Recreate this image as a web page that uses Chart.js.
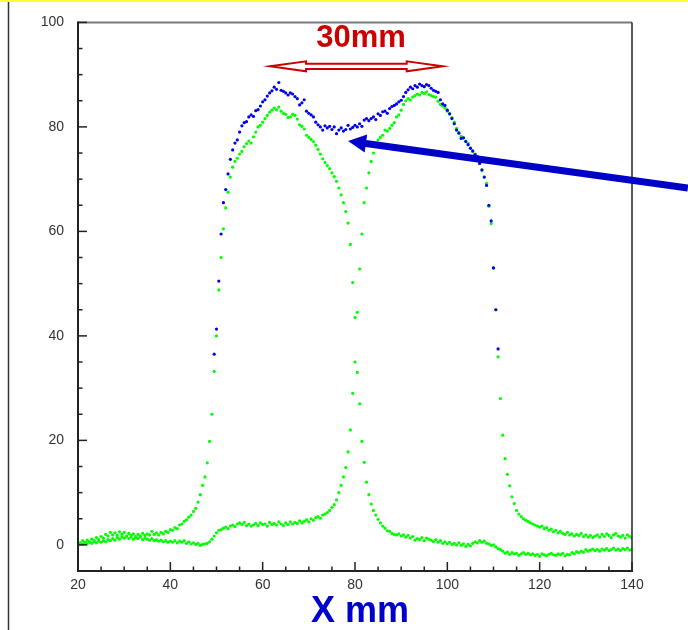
<!DOCTYPE html>
<html>
<head>
<meta charset="utf-8">
<script src="https://cdn.jsdelivr.net/npm/chart.js@4/dist/chart.umd.min.js"></script>
<style>
html,body{margin:0;padding:0;background:#fff;}
canvas{display:block;}
</style>
</head>
<body>
<canvas id="c" width="688" height="630"></canvas>
<script>
// ---------------- DATA ----------------
// sampling grid of the measured profiles (mm)
const X_START = 20;
const X_STEP = 0.5;

// green: left beam profile, x = 20 .. 140
const beamLeft = [
  0.4,0.2,0.8,0.5,0.9,0.6,1.1,0.8,1.4,1.0,
  1.6,1.3,2.0,1.7,2.4,1.9,2.3,1.8,2.5,2.0,
  2.4,1.7,2.2,1.8,2.1,1.6,2.0,1.7,2.2,1.8,
  2.1,1.9,2.6,2.0,2.3,1.9,2.4,2.1,2.6,2.4,
  2.9,2.8,3.3,3.1,3.8,4.0,4.5,4.8,5.3,5.7,
  6.4,7.0,8.2,9.6,11.4,13.0,15.7,19.8,25.0,33.2,
  40.0,48.8,55.0,60.5,64.5,67.5,70.4,72.3,73.4,74.0,
  74.8,75.3,76.2,76.8,77.3,76.9,78.1,79.0,80.0,80.3,
  80.9,81.6,82.2,82.8,83.2,83.6,83.3,83.8,83.0,82.6,
  82.4,81.8,81.9,82.4,82.2,81.5,80.4,80.1,79.6,78.4,
  78.0,77.6,77.2,76.5,75.7,74.8,73.9,73.2,72.6,72.0,
  71.2,70.5,69.6,68.3,67.0,65.5,63.8,61.6,57.5,50.2,
  43.5,33.0,27.0,19.8,15.8,12.0,9.6,7.8,6.6,5.7,
  4.9,4.2,3.6,3.2,2.7,2.6,2.2,2.0,1.9,2.1,
  1.7,1.9,1.5,1.8,1.3,1.6,0.9,1.2,1.0,1.4,
  0.8,1.3,1.1,0.9,0.6,1.0,0.5,0.8,0.3,0.6,
  0.2,0.5,0.1,0.3,0.0,0.4,-0.1,0.2,-0.3,0.1,
  -0.2,0.3,0.6,0.4,0.8,0.5,0.7,0.3,0.2,-0.1,
  0.0,-0.4,-0.7,-0.9,-1.2,-1.6,-1.4,-1.8,-1.5,-1.7,
  -1.6,-2.0,-1.7,-1.5,-1.8,-1.6,-1.9,-1.7,-2.0,-1.8,
  -2.2,-1.7,-1.9,-2.1,-1.8,-1.6,-1.9,-2.0,-1.7,-1.9,
  -1.6,-2.1,-1.8,-1.9,-1.5,-1.7,-1.3,-1.5,-1.2,-1.4,
  -0.9,-1.2,-1.0,-0.8,-1.1,-0.9,-1.2,-0.8,-1.0,-0.7,
  -1.1,-0.9,-0.6,-1.0,-0.8,-1.1,-0.7,-0.9,-0.6,-1.0,
  -0.8
];

// green: right beam profile, x = 20 .. 140
const beamRight = [
  0.0,0.4,0.1,0.3,0.2,0.5,0.3,0.6,0.4,0.7,
  0.5,0.8,0.6,1.0,0.8,1.2,0.9,1.4,1.1,1.5,
  1.3,1.6,1.2,1.5,1.1,1.4,1.2,1.5,1.0,1.3,
  1.1,0.9,1.2,0.8,1.0,0.7,0.9,0.6,0.8,0.5,
  0.7,0.5,0.8,0.4,0.7,0.5,0.8,0.3,0.6,0.2,
  0.4,0.1,0.3,-0.1,0.1,0.2,0.3,0.6,1.1,1.7,
  2.3,2.8,2.9,3.2,3.4,3.1,3.6,3.8,3.5,4.0,
  4.2,3.9,4.3,3.7,4.0,3.6,3.8,4.1,3.7,4.2,
  3.9,4.0,3.6,4.3,3.9,4.1,3.8,4.4,4.0,3.7,
  4.2,3.9,4.4,4.0,4.3,4.1,4.6,4.2,4.5,4.8,
  4.4,5.0,4.7,5.2,5.4,5.1,5.7,5.9,6.2,6.6,
  7.2,7.7,8.6,10.0,11.4,13.0,14.8,17.8,22.0,29.0,
  35.0,44.5,52.8,59.5,65.5,68.3,71.2,73.4,75.0,76.4,
  77.5,78.0,78.4,79.4,79.2,79.7,80.3,80.8,81.9,82.3,
  83.2,84.3,85.0,85.4,85.2,85.7,86.0,86.3,86.1,86.6,
  86.4,86.7,86.2,86.0,85.8,85.7,84.9,84.3,84.0,83.6,
  83.0,82.5,81.8,80.9,79.7,79.0,78.2,77.9,77.3,76.8,
  76.0,75.3,74.8,74.2,73.0,71.6,70.4,69.2,64.8,61.5,
  53.0,45.0,36.0,28.0,21.0,16.5,13.5,11.3,9.2,7.9,
  6.6,5.9,5.4,5.0,4.7,4.5,4.2,4.0,3.8,3.6,
  3.4,3.6,3.1,3.3,2.8,3.0,2.5,2.8,2.3,2.6,
  2.2,2.0,2.4,1.9,2.1,1.7,2.0,1.8,2.2,1.6,
  1.9,1.5,1.8,1.4,1.7,1.9,1.5,2.0,1.6,2.1,
  1.8,1.4,1.9,2.2,1.7,1.5,1.8,1.3,1.9,1.6,
  1.3
];

// blue: both beams together, x = 49.5 .. 111
const SUM_START = 49.5;
const beamSum = [
  36.5,41.3,50.5,59.5,65.5,68.0,71.0,73.8,75.6,76.9,
  77.5,79.0,80.2,80.8,81.0,81.9,82.3,82.0,83.1,83.3,
  84.0,84.8,85.2,85.9,86.5,86.9,87.6,87.2,88.5,87.0,
  86.8,86.5,86.1,86.5,86.3,85.8,85.4,84.2,84.6,85.2,
  83.0,82.6,82.3,81.9,80.9,80.4,80.0,79.4,80.2,79.8,
  80.1,79.5,80.0,78.7,79.4,79.8,79.2,79.5,80.3,79.6,
  79.9,80.3,80.0,80.6,80.1,81.3,81.6,81.2,81.6,81.9,
  81.4,82.5,82.2,82.9,83.0,82.6,83.5,83.9,84.1,84.4,
  84.8,85.1,85.8,86.6,87.1,87.6,87.3,87.9,87.6,88.2,
  87.9,87.7,88.1,87.9,87.4,87.0,86.8,86.6,85.2,84.4,
  84.1,83.2,82.5,81.6,80.6,79.4,78.8,77.8,77.9,77.2,
  76.6,75.9,75.4,74.7,74.3,73.0,71.8,70.4,68.8,65.0,
  62.0,53.0,45.0,37.5
];

// axes
const xTicks = [20, 40, 60, 80, 100, 120, 140];
const yTicks = [0, 20, 40, 60, 80, 100];
const xRange = [20, 140];
const yRange = [-5, 100];
const minorStep = 5;

// annotations (data coordinates)
const spanLabel = '30mm';
const spanFrom = 61.6, spanTo = 99.0, spanY = 91.6;
const spanLabelX = 81.3, spanLabelY = 95.2;
const pointerFrom = [152.1, 68.3];
const pointerTo = [78.5, 77.3];
const xTitle = 'X mm';

// ---------------- CHART ----------------
const FONT = "'Liberation Sans', Arial, Helvetica, sans-serif";
const toPts = (start, vals) => vals.map((v, i) => ({ x: start + i * X_STEP, y: v }));

const chrome = {
  id: 'chrome',
  beforeDraw(chart) {
    const ctx = chart.ctx;
    ctx.save();
    ctx.fillStyle = '#ffffff';
    ctx.fillRect(0, 0, chart.width, chart.height);
    ctx.fillStyle = '#ffff33';
    ctx.fillRect(0, 0, chart.width, 2);
    ctx.strokeStyle = '#333';
    ctx.lineWidth = 1.5;
    ctx.beginPath();
    ctx.moveTo(8.5, 2);
    ctx.lineTo(8.5, chart.height);
    ctx.stroke();
    ctx.restore();
  },
  afterDatasetsDraw(chart) {
    const { ctx, chartArea: a, scales: { x, y } } = chart;
    ctx.save();
    const line = (x1, y1, x2, y2) => { ctx.beginPath(); ctx.moveTo(x1, y1); ctx.lineTo(x2, y2); ctx.stroke(); };
    ctx.strokeStyle = '#7a7a7a';
    ctx.lineWidth = 2;
    line(a.left, a.top, a.right, a.top);
    ctx.strokeStyle = '#222';
    ctx.lineWidth = 1.5;
    line(a.right, a.top, a.right, a.bottom);
    ctx.lineWidth = 2;
    line(a.left, a.top - 1, a.left, a.bottom + 1);
    line(a.left - 1, a.bottom, a.right + 1, a.bottom);
    ctx.lineWidth = 1.5;
    for (let v = 0; v <= yRange[1]; v += minorStep) {
      const p = y.getPixelForValue(v);
      const len = yTicks.includes(v) ? 9 : 4.5;
      line(a.left, p, a.left + len, p);
    }
    for (let v = xRange[0]; v <= xRange[1]; v += minorStep) {
      const p = x.getPixelForValue(v);
      const len = xTicks.includes(v) ? 9 : 4.5;
      line(p, a.bottom, p, a.bottom - len);
    }
    ctx.restore();
  },
  afterDraw(chart) {
    const { ctx, chartArea: a, scales: { x, y } } = chart;
    ctx.save();
    // hollow double arrow
    const xl = x.getPixelForValue(spanFrom), xr = x.getPixelForValue(spanTo), ya = y.getPixelForValue(spanY);
    const hl = 36, hw = 5, sw = 2.6;
    ctx.beginPath();
    ctx.moveTo(xl, ya);
    ctx.lineTo(xl + hl, ya - hw);
    ctx.lineTo(xl + hl, ya - sw);
    ctx.lineTo(xr - hl, ya - sw);
    ctx.lineTo(xr - hl, ya - hw);
    ctx.lineTo(xr, ya);
    ctx.lineTo(xr - hl, ya + hw);
    ctx.lineTo(xr - hl, ya + sw);
    ctx.lineTo(xl + hl, ya + sw);
    ctx.lineTo(xl + hl, ya + hw);
    ctx.closePath();
    ctx.fillStyle = '#ffffff';
    ctx.fill();
    ctx.strokeStyle = '#cc0000';
    ctx.lineWidth = 2;
    ctx.lineJoin = 'miter';
    ctx.stroke();
    // span label
    ctx.fillStyle = '#cc0000';
    ctx.font = 'bold 31px ' + FONT;
    ctx.textAlign = 'center';
    ctx.textBaseline = 'alphabetic';
    ctx.fillText(spanLabel, x.getPixelForValue(spanLabelX), y.getPixelForValue(spanLabelY));
    // blue pointer arrow
    const x0 = x.getPixelForValue(pointerFrom[0]), y0 = y.getPixelForValue(pointerFrom[1]);
    const x1 = x.getPixelForValue(pointerTo[0]), y1 = y.getPixelForValue(pointerTo[1]);
    const ang = Math.atan2(y1 - y0, x1 - x0);
    const L = 18, W = 9;
    const bx = x1 - L * Math.cos(ang), by = y1 - L * Math.sin(ang);
    ctx.strokeStyle = '#0000c8';
    ctx.fillStyle = '#0000c8';
    ctx.lineWidth = 7;
    ctx.lineCap = 'butt';
    ctx.beginPath();
    ctx.moveTo(x0, y0);
    ctx.lineTo(bx + 2 * Math.cos(ang), by + 2 * Math.sin(ang));
    ctx.stroke();
    ctx.beginPath();
    ctx.moveTo(x1, y1);
    ctx.lineTo(bx + W * Math.sin(ang), by - W * Math.cos(ang));
    ctx.lineTo(bx - W * Math.sin(ang), by + W * Math.cos(ang));
    ctx.closePath();
    ctx.fill();
    // axis title
    ctx.fillStyle = '#0000cc';
    ctx.font = 'bold 36px ' + FONT;
    ctx.textAlign = 'center';
    ctx.fillText(xTitle, (a.left + a.right) / 2 + 5, a.bottom + 51);
    ctx.restore();
  }
};

const tickFont = { family: FONT, size: 14 };

new Chart(document.getElementById('c'), {
  type: 'scatter',
  data: {
    datasets: [
      { label: 'sum', data: toPts(SUM_START, beamSum), backgroundColor: '#0000ee', pointRadius: 1.6, pointBorderWidth: 0, pointHoverRadius: 0 },
      { label: 'left beam', data: toPts(X_START, beamLeft), backgroundColor: '#00ff00', pointRadius: 1.6, pointBorderWidth: 0, pointHoverRadius: 0 },
      { label: 'right beam', data: toPts(X_START, beamRight), backgroundColor: '#00ff00', pointRadius: 1.6, pointBorderWidth: 0, pointHoverRadius: 0 }
    ]
  },
  options: {
    responsive: false,
    animation: false,
    events: [],
    layout: { padding: { left: 0, right: 56, top: 18, bottom: 29 } },
    plugins: { legend: { display: false }, tooltip: { enabled: false } },
    scales: {
      x: {
        type: 'linear', min: xRange[0], max: xRange[1],
        afterBuildTicks: s => { s.ticks = xTicks.map(v => ({ value: v })); },
        afterFit: s => { s.height = 30; },
        grid: { display: false, drawTicks: false },
        border: { display: false },
        ticks: { font: tickFont, color: '#333', padding: 6, maxRotation: 0, autoSkip: false }
      },
      y: {
        type: 'linear', min: yRange[0], max: yRange[1],
        afterBuildTicks: s => { s.ticks = yTicks.map(v => ({ value: v })); },
        afterFit: s => { s.width = 78; },
        grid: { display: false, drawTicks: false },
        border: { display: false },
        ticks: { font: tickFont, color: '#333', padding: 14, autoSkip: false }
      }
    }
  },
  plugins: [chrome]
});
</script>
</body>
</html>
